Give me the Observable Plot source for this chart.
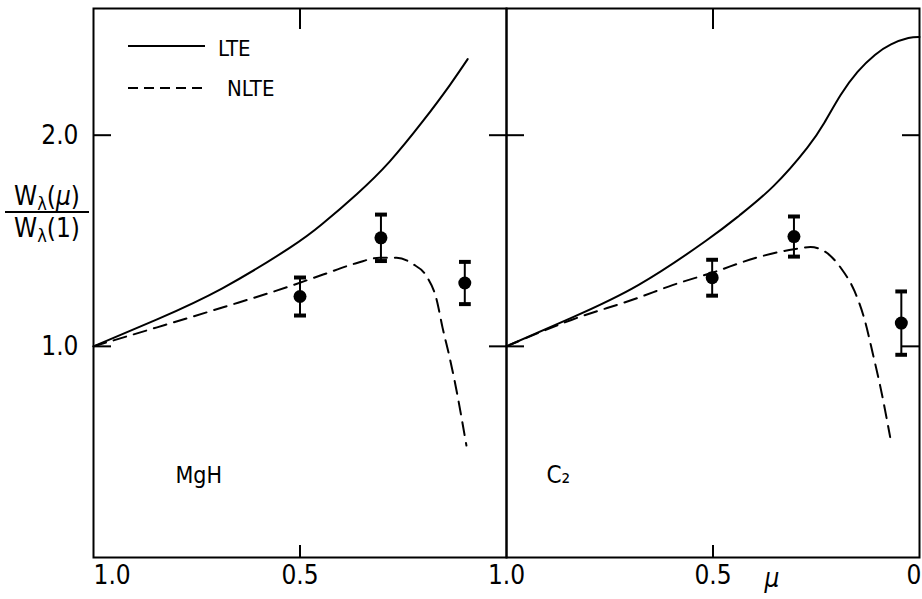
<!DOCTYPE html>
<html>
<head>
<meta charset="utf-8">
<script src="https://cdn.jsdelivr.net/npm/d3@7"></script>
<script src="https://cdn.jsdelivr.net/npm/@observablehq/plot@0.6"></script>
<style>
  html, body { margin: 0; padding: 0; background: #fff; }
  #wrap { position: relative; width: 922px; height: 599px; font-family: "Liberation Sans Narrow", "DejaVu Sans Condensed", "Liberation Sans", sans-serif; color: #000; }
  #chart { position: absolute; left: 0; top: 0; }
  #ylab { position: absolute; left: 5px; top: 181px; width: 84px; text-align: center; font-size: 26px; line-height: 30px; }
  #ylab .num { border-bottom: 2px solid #000; padding-bottom: 0px; }
  #ylab sub { font-size: 18px; vertical-align: -5px; line-height: 0; }
  #legend { position: absolute; left: 0; top: 0; }
</style>
</head>
<body>
<div id="wrap">
  <div id="chart"></div>
  <div id="ylab"><div class="num">W<sub>λ</sub>(<i>μ</i>)</div><div>W<sub>λ</sub>(1)</div></div>
  <svg id="legend" width="320" height="110" font-family="'Liberation Sans Narrow', 'DejaVu Sans Condensed', 'Liberation Sans', sans-serif">
    <line x1="128" x2="205" y1="46" y2="46" stroke="#000" stroke-width="2"></line>
    <text x="218" y="48" dy="0.35em" font-size="22">LTE</text>
    <line x1="128" x2="205" y1="88" y2="88" stroke="#000" stroke-width="2" stroke-dasharray="10,6"></line>
    <text x="227" y="88" dy="0.35em" font-size="22">NLTE</text>
  </svg>
</div>
<script>
// Panels
const panels = ["MgH", "C2"];
const panelLabels = ["MgH", "C₂"];

// MgH: LTE curve
const mghLteMu = [1.0, 0.846, 0.688, 0.526, 0.447, 0.362, 0.283, 0.203, 0.138, 0.094];
const mghLteW  = [1.0, 1.128, 1.275, 1.465, 1.578, 1.722, 1.875, 2.065, 2.235, 2.36];
// MgH: NLTE curve
const mghNlteMu = [1.0, 0.846, 0.686, 0.524, 0.444, 0.362, 0.307, 0.266, 0.227, 0.193, 0.169, 0.155, 0.138, 0.126, 0.097];
const mghNlteW  = [1.0, 1.09, 1.185, 1.285, 1.34, 1.395, 1.42, 1.42, 1.39, 1.33, 1.22, 1.09, 0.95, 0.84, 0.53];
// MgH: observations
const mghObsMu  = [0.5, 0.304, 0.101];
const mghObsW   = [1.236, 1.514, 1.30];
const mghObsErr = [0.09, 0.11, 0.10];

// C2: LTE curve
const c2LteMu = [1.0, 0.843, 0.681, 0.517, 0.436, 0.353, 0.272, 0.23, 0.191, 0.15, 0.108, 0.069, 0.027, 0.0];
const c2LteW  = [1.0, 1.135, 1.29, 1.50, 1.62, 1.76, 1.94, 2.06, 2.19, 2.30, 2.38, 2.43, 2.46, 2.465];
// C2: NLTE curve
const c2NlteMu = [1.0, 0.843, 0.681, 0.598, 0.5, 0.395, 0.304, 0.264, 0.23, 0.19, 0.157, 0.132, 0.113, 0.096, 0.071];
const c2NlteW  = [1.0, 1.125, 1.23, 1.29, 1.35, 1.42, 1.46, 1.47, 1.45, 1.37, 1.26, 1.12, 0.965, 0.82, 0.57];
// C2: observations
const c2ObsMu  = [0.502, 0.304, 0.044];
const c2ObsW   = [1.325, 1.52, 1.11];
const c2ObsErr = [0.085, 0.095, 0.15];

// Axis ticks
const yTicks = [1.0, 2.0];
const xInnerTicks = [0.5];
const xTickPanel = ["MgH", "MgH", "C2", "C2", "C2"];
const xTickMu    = [1.0, 0.5, 1.0, 0.5, 0.0];
const xTickText  = ["1.0", "0.5", "1.0", "0.5", "0"];

// Build tables
const series = (panel, mus, ws) => mus.map((mu, i) => ({panel, mu, w: ws[i]}));
const obs = (panel, mus, ws, errs) => mus.map((mu, i) => ({panel, mu, w: ws[i], lo: ws[i] - errs[i], hi: ws[i] + errs[i]}));
const lte = [...series("MgH", mghLteMu, mghLteW), ...series("C2", c2LteMu, c2LteW)];
const nlte = [...series("MgH", mghNlteMu, mghNlteW), ...series("C2", c2NlteMu, c2NlteW)];
const points = [...obs("MgH", mghObsMu, mghObsW, mghObsErr), ...obs("C2", c2ObsMu, c2ObsW, c2ObsErr)];
const xTicks = xTickMu.map((mu, i) => ({panel: xTickPanel[i], mu, label: xTickText[i], i}));
const labels = panels.map((p, i) => ({panel: p, label: panelLabels[i]}));

const font = "'Liberation Sans Narrow', 'DejaVu Sans Condensed', 'Liberation Sans', sans-serif";
const tickText = {fx: "panel", x: "mu", text: "label", frameAnchor: "bottom", dy: 26, fontSize: 26};

const chart = Plot.plot({
  width: 922,
  height: 599,
  marginLeft: 93,
  marginRight: 3,
  marginTop: 8,
  marginBottom: 42,
  style: {fontFamily: font, fontSize: "22px", background: "#fff", color: "#000"},
  fx: {domain: panels, padding: 0, axis: null, label: null},
  x: {domain: [1, 0], axis: null, label: null},
  y: {domain: [0, 2.6], axis: null, label: null},
  marks: [
    Plot.frame({strokeWidth: 2, stroke: "#000"}),
    // inward ticks
    Plot.axisY(yTicks, {anchor: "left", facetAnchor: null, tickSize: -18, strokeWidth: 2, fill: "none", label: null}),
    Plot.axisY(yTicks, {anchor: "right", facetAnchor: null, tickSize: -18, strokeWidth: 2, fill: "none", label: null}),
    Plot.axisX(xInnerTicks, {anchor: "bottom", facetAnchor: null, tickSize: -12, strokeWidth: 2, fill: "none", label: null}),
    Plot.axisX(xInnerTicks, {anchor: "top", facetAnchor: null, tickSize: -20, strokeWidth: 2, fill: "none", label: null}),
    // y tick labels
    Plot.axisY(yTicks, {anchor: "left", tickSize: 0, tickPadding: 15, tickFormat: d3.format(".1f"), fontSize: 26, label: null}),
    // x tick labels
    Plot.text(xTicks.filter(d => d.i === 0), {...tickText, textAnchor: "start"}),
    Plot.text(xTicks.filter(d => d.i > 0 && d.mu > 0), {...tickText, textAnchor: "middle"}),
    Plot.text(xTicks.filter(d => d.mu === 0), {...tickText, textAnchor: "end", dx: 2}),
    Plot.text([{panel: "C2"}], {fx: "panel", text: () => "μ", frameAnchor: "bottom-right", dx: -140, dy: 29, fontSize: 26, fontStyle: "italic"}),
    // curves
    Plot.line(lte, {fx: "panel", x: "mu", y: "w", curve: "natural", stroke: "#000", strokeWidth: 2}),
    Plot.line(nlte, {fx: "panel", x: "mu", y: "w", curve: "monotone-x", stroke: "#000", strokeWidth: 2, strokeDasharray: "13,8"}),
    // observations with error bars
    Plot.link(points, {fx: "panel", x1: "mu", x2: "mu", y1: "lo", y2: "hi", stroke: "#000", strokeWidth: 2, markerStart: "tick", markerEnd: "tick"}),
    Plot.dot(points, {fx: "panel", x: "mu", y: "w", r: 6.5, fill: "#000", stroke: "none"}),
    // panel labels
    Plot.text(labels.filter(d => d.panel === "MgH"), {fx: "panel", text: "label", frameAnchor: "bottom-left", textAnchor: "start", dx: 82, dy: -75, fontSize: 23}),
    Plot.text(labels.filter(d => d.panel === "C2"), {fx: "panel", text: "label", frameAnchor: "bottom-left", textAnchor: "start", dx: 40, dy: -75, fontSize: 24})
  ]
});
document.getElementById("chart").appendChild(chart);
</script>
</body>
</html>
